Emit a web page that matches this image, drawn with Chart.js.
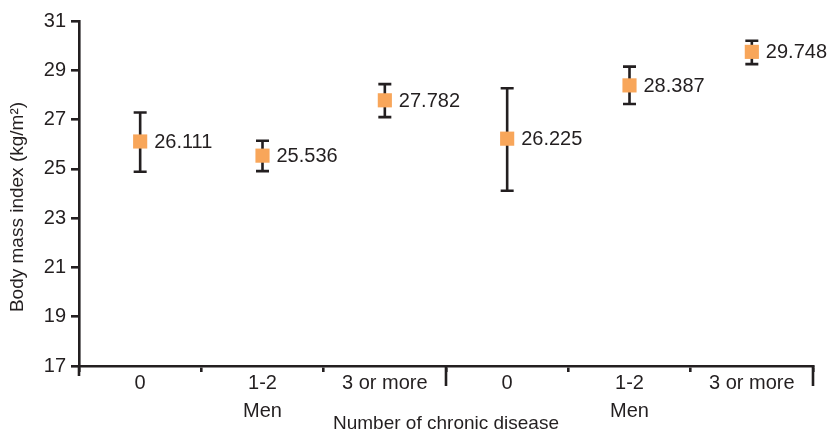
<!DOCTYPE html>
<html>
<head>
<meta charset="utf-8">
<script src="https://cdn.jsdelivr.net/npm/chart.js@4"></script>
<style>
html,body{margin:0;padding:0;background:#fff;}
canvas{display:block;}
</style>
</head>
<body>
<canvas id="c" width="827" height="433"></canvas>
<script>
// ---- data ----
const categories = ['0', '1-2', '3 or more', '0', '1-2', '3 or more'];
const groupNames = ['Men', 'Men'];
const bmiMean = [26.111, 25.536, 27.782, 26.225, 28.387, 29.748];
const ciLow  = [24.88, 24.91, 27.10, 24.11, 27.63, 29.25];
const ciHigh = [27.29, 26.14, 28.44, 28.27, 29.15, 30.20];
const yTicks = [17, 19, 21, 23, 25, 27, 29, 31];
const yTitle = 'Body mass index (kg/m\u00B2)';
const xTitle = 'Number of chronic disease';

const FONT = "'Liberation Sans', Arial, sans-serif";
const INK = '#231f20';
const ORANGE = '#F8A65A';

// multi-line labels: group name under middle category of each group of 3
const xLabels = categories.map((c, i) => (i % 3 === 1) ? [c, groupNames[Math.floor(i / 3)]] : c);

const decor = {
  id: 'decor',
  beforeDatasetsDraw(chart) {
    const {ctx} = chart;
    const x = chart.scales.x, y = chart.scales.y;
    ctx.save();
    ctx.strokeStyle = INK;
    ctx.lineWidth = 2.6;
    bmiMean.forEach((m, i) => {
      const px = x.getPixelForValue(i);
      const t = y.getPixelForValue(ciHigh[i]);
      const b = y.getPixelForValue(ciLow[i]);
      ctx.beginPath();
      ctx.moveTo(px, t); ctx.lineTo(px, b);
      ctx.moveTo(px - 6.5, t); ctx.lineTo(px + 6.5, t);
      ctx.moveTo(px - 6.5, b); ctx.lineTo(px + 6.5, b);
      ctx.stroke();
    });
    ctx.restore();
  },
  afterDatasetsDraw(chart) {
    const {ctx} = chart;
    const x = chart.scales.x, y = chart.scales.y;
    ctx.save();
    ctx.fillStyle = INK;
    ctx.font = '20px ' + FONT;
    ctx.textAlign = 'left';
    ctx.textBaseline = 'middle';
    bmiMean.forEach((m, i) => {
      ctx.fillText(m.toFixed(3), x.getPixelForValue(i) + 14, y.getPixelForValue(m) + 1);
    });
    // long ticks at group boundaries and axis extension
    const bottom = chart.chartArea.bottom;
    ctx.strokeStyle = INK;
    ctx.lineWidth = 2.6;
    ctx.beginPath();
    [2.5, 5.5].forEach(v => {
      const px = x.getPixelForValue(v);
      ctx.moveTo(px, bottom); ctx.lineTo(px, bottom + 20);
    });
    const lx = chart.chartArea.left;
    ctx.moveTo(lx, bottom); ctx.lineTo(lx, bottom + 10);
    ctx.stroke();
    // axis titles
    ctx.font = '19px ' + FONT;
    ctx.textAlign = 'center';
    ctx.textBaseline = 'middle';
    ctx.fillText(xTitle, x.getPixelForValue(2.5), 424);
    ctx.translate(18, 207);
    ctx.rotate(-Math.PI / 2);
    ctx.fillText(yTitle, 0, 0);
    ctx.restore();
  }
};

new Chart(document.getElementById('c'), {
  type: 'line',
  data: {
    labels: xLabels,
    datasets: [{
      data: bmiMean,
      showLine: false,
      pointStyle: 'rect',
      pointRadius: 10,
      pointBorderWidth: 0,
      pointBackgroundColor: ORANGE,
      pointBorderColor: ORANGE,
      clip: false
    }]
  },
  options: {
    responsive: false,
    animation: false,
    devicePixelRatio: 1,
    layout: {padding: {top: 21, right: 14, left: 0, bottom: 0}},
    plugins: {legend: {display: false}, tooltip: {enabled: false}},
    scales: {
      x: {
        type: 'category',
        offset: true,
        grid: {display: true, drawOnChartArea: false, offset: true, tickLength: 6, color: INK, lineWidth: 2.6},
        border: {display: true, color: INK, width: 2.6},
        ticks: {color: INK, font: {family: FONT, size: 20, lineHeight: 1.4}, padding: -3, maxRotation: 0, autoSkip: false},
        afterFit(s) { s.height = 67; }
      },
      y: {
        min: 17, max: 31,
        afterBuildTicks(s) { s.ticks = yTicks.map(v => ({value: v})); },
        grid: {display: true, drawOnChartArea: false, tickLength: 8, color: INK, lineWidth: 2.6},
        border: {display: true, color: INK, width: 2.6},
        ticks: {color: INK, font: {family: FONT, size: 20}, padding: 5},
        afterFit(s) { s.width = 79; }
      }
    }
  },
  plugins: [decor]
});
</script>
</body>
</html>
